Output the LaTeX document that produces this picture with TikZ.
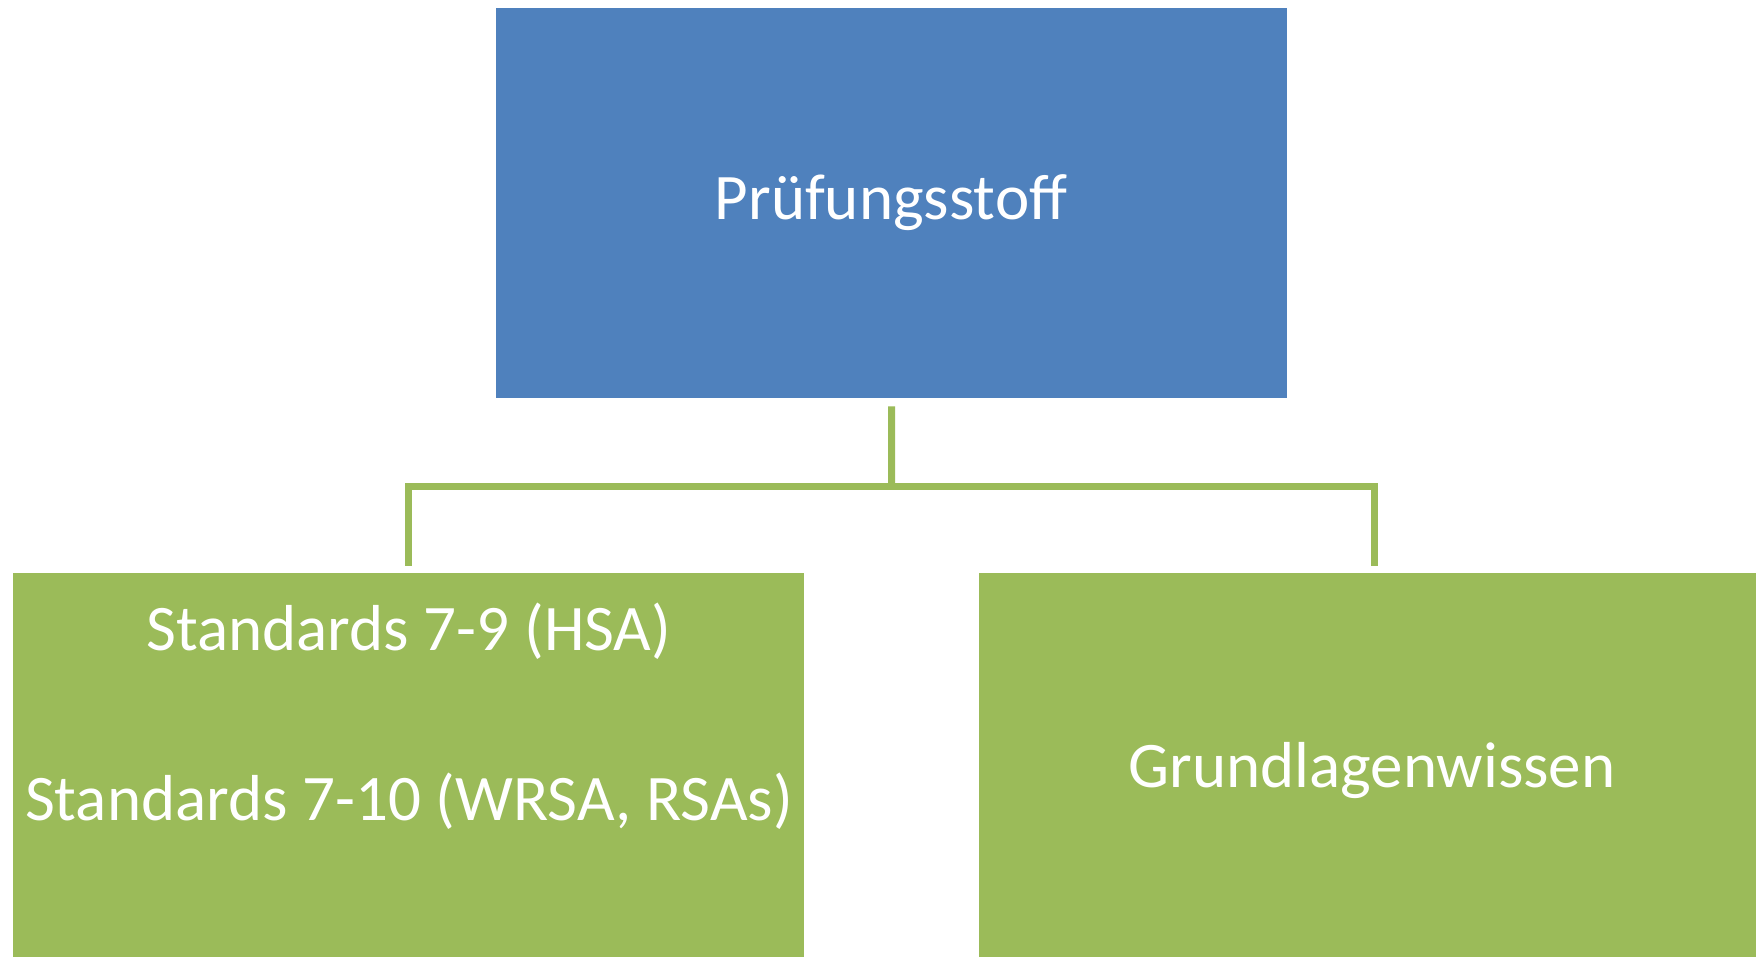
\documentclass[tikz,border=0pt]{standalone}
\usepackage{fontspec}
\setmainfont{Carlito}
\definecolor{boxblue}{HTML}{4F81BD}
\definecolor{boxgreen}{HTML}{9BBB59}
\begin{document}
\begin{tikzpicture}[x=1pt,y=-1pt,
  box/.style={rectangle, draw=none, anchor=north west, inner sep=0pt, minimum width=791pt},
  txt/.style={text=white, font=\fontsize{65}{78}\selectfont, anchor=base, inner sep=0pt},
  conn/.style={draw=boxgreen, line width=7pt}]
\clip (0,0) rectangle (1756,957);
\fill[white] (0,0) rectangle (1756,957);
\node[box, fill=boxblue, minimum height=390pt] (top) at (496,8) {};
\node[box, fill=boxgreen, minimum height=400pt] (left) at (13,573) {};
\node[box, fill=boxgreen, minimum height=400pt] (right) at (979,573) {};
\node[txt] (toplabel) at (891,220) {Prüfungsstoff};
\node[txt] (leftlabela) at (409,650) {Standards 7-9 (HSA)};
\node[txt] (leftlabelb) at (409,820) {Standards 7-10 (WRSA, RSAs)};
\node[txt] (rightlabel) at (1372,787) {Grundlagenwissen};
\coordinate (j) at (891.5,486.5);
\draw[conn] ([yshift=-8pt]top.south) -- (j);
\draw[conn] (j) -| ([yshift=7pt]left.north);
\draw[conn] (j) -| ([yshift=7pt]right.north);
\end{tikzpicture}
\end{document}
